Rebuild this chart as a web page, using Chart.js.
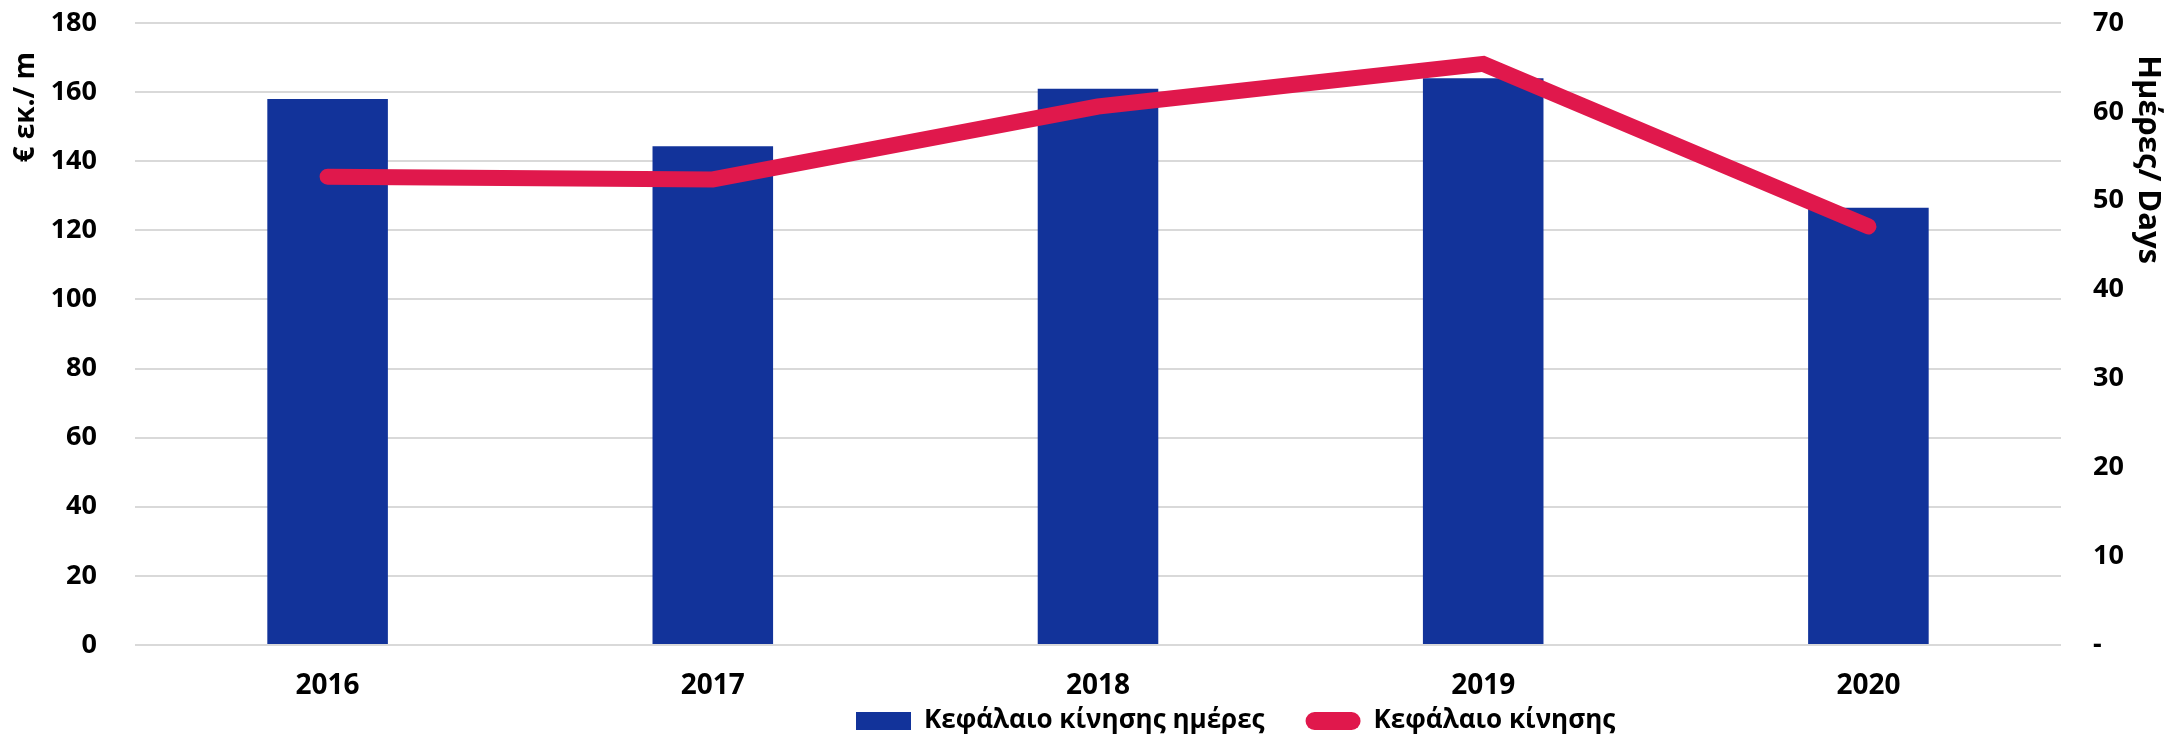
<!DOCTYPE html>
<html>
<head>
<meta charset="utf-8">
<script src="https://cdn.jsdelivr.net/npm/chart.js@4/dist/chart.umd.min.js"></script>
<style>
html,body{margin:0;padding:0;background:#ffffff;}
canvas{display:block;}
</style>
</head>
<body>
<canvas id="c" width="2177" height="740"></canvas>
<script>
// ---- data ----
const categories = ['2016', '2017', '2018', '2019', '2020'];
const barValues = [158, 144.3, 161, 164, 126.5];      // € εκ. / m (left axis)
const lineValues = [52.7, 52.4, 60.6, 65.4, 47.1];    // Ημέρες / Days (right axis)
const barLabel = 'Κεφάλαιο κίνησης ημέρες';
const lineLabel = 'Κεφάλαιο κίνησης';
const leftTitle = '€ εκ./ m';
const rightTitle = 'Ημέρες/ Days';
const leftRange = [0, 180, 20];
const rightRange = [0, 70, 10];
const rightZeroLabel = '-';

// ---- layout / style ----
const BAR_COLOR = '#12339a';
const LINE_COLOR = '#e0184c';
const FONT = "'Open Sans', 'DejaVu Sans', sans-serif";
const PLOT_BOTTOM = 645;
const LEFT_AXIS_W = 135;
const RIGHT_AXIS_W = 116;
const LEGEND_RESERVED_H = 13;
const LEGEND_X = 856;
const LEGEND_Y = 721;

const legendPlace = {
  id: 'legendPlace',
  afterLayout(chart) {
    const l = chart.legend;
    if (!l || !l.lineWidths) return;
    const lab = l.options.labels;
    const pad = lab.padding;
    const itemH = Math.max(lab.font.size, lab.boxHeight);
    const start = (l.left + pad + l.right - l.lineWidths[0]) / 2;
    const dx = LEGEND_X - start;
    l.left += dx; l.right += dx;
    l.top = LEGEND_Y - pad - itemH / 2;
    l.bottom = chart.height;
  }
};

new Chart(document.getElementById('c'), {
  data: {
    labels: categories,
    datasets: [
      {
        type: 'bar',
        label: barLabel,
        data: barValues,
        backgroundColor: BAR_COLOR,
        borderWidth: 0,
        yAxisID: 'y',
        order: 1,
        barPercentage: 0.313,
        categoryPercentage: 1
      },
      {
        type: 'line',
        label: lineLabel,
        data: lineValues,
        borderColor: LINE_COLOR,
        backgroundColor: LINE_COLOR,
        borderWidth: 16,
        borderCapStyle: 'round',
        borderJoinStyle: 'miter',
        pointRadius: 0,
        pointHoverRadius: 0,
        tension: 0,
        fill: false,
        yAxisID: 'y1',
        order: 0
      }
    ]
  },
  options: {
    responsive: false,
    animation: false,
    layout: { padding: { left: 0, right: 0, top: 23, bottom: 0 } },
    plugins: {
      tooltip: { enabled: false },
      legend: {
        position: 'bottom',
        align: 'center',
        maxHeight: LEGEND_RESERVED_H,
        labels: {
          color: '#000',
          font: { family: FONT, size: 26, weight: 'bold' },
          boxWidth: 55,
          boxHeight: 18,
          padding: 41,
          useBorderRadius: true,
          generateLabels(chart) {
            const items = Chart.defaults.plugins.legend.labels.generateLabels(chart);
            items.forEach(it => {
              const ds = chart.data.datasets[it.datasetIndex];
              it.fillStyle = ds.type === 'line' ? LINE_COLOR : BAR_COLOR;
              it.strokeStyle = 'rgba(0,0,0,0)';
              it.lineWidth = 0;
              it.borderRadius = ds.type === 'line' ? 9 : 0;
            });
            items.sort((a, b) => a.datasetIndex - b.datasetIndex);
            return items;
          }
        }
      }
    },
    scales: {
      x: {
        grid: { display: false, drawTicks: false },
        border: { display: false },
        ticks: {
          color: '#000',
          font: { family: FONT, size: 28, weight: 'bold', lineHeight: 1 },
          padding: 27
        },
        afterFit(s) {
          const lh = s.chart.legend ? s.chart.legend.height : 0;
          s.height = Math.max(0, s.chart.height - lh - PLOT_BOTTOM);
        }
      },
      y: {
        position: 'left',
        min: leftRange[0], max: leftRange[1],
        grid: { color: '#d9d9d9', lineWidth: 2, drawTicks: false },
        border: { display: false },
        ticks: {
          stepSize: leftRange[2],
          color: '#000',
          font: { family: FONT, size: 27, weight: 'bold' },
          padding: 38
        },
        title: {
          display: true,
          text: leftTitle + '    ',
          align: 'end',
          color: '#000',
          font: { family: FONT, size: 28, weight: 'bold' },
          padding: { top: 9.2, bottom: 8 }
        },
        afterFit(s) { s.width = LEFT_AXIS_W; s.paddingTop = 0; s.paddingBottom = 0; }
      },
      y1: {
        position: 'right',
        min: rightRange[0], max: rightRange[1],
        grid: { display: false, drawTicks: false },
        border: { display: false },
        ticks: {
          stepSize: rightRange[2],
          color: '#000',
          font: { family: FONT, size: 27, weight: 'bold' },
          padding: 32,
          callback: v => (v === 0 ? rightZeroLabel : v)
        },
        title: {
          display: true,
          text: '    ' + rightTitle,
          align: 'end',
          color: '#000',
          font: { family: FONT, size: 31, weight: 'bold' },
          padding: { top: 10.4, bottom: 8 }
        },
        afterFit(s) { s.width = RIGHT_AXIS_W; s.paddingTop = 0; s.paddingBottom = 0; }
      }
    }
  },
  plugins: [legendPlace]
});
</script>
</body>
</html>
